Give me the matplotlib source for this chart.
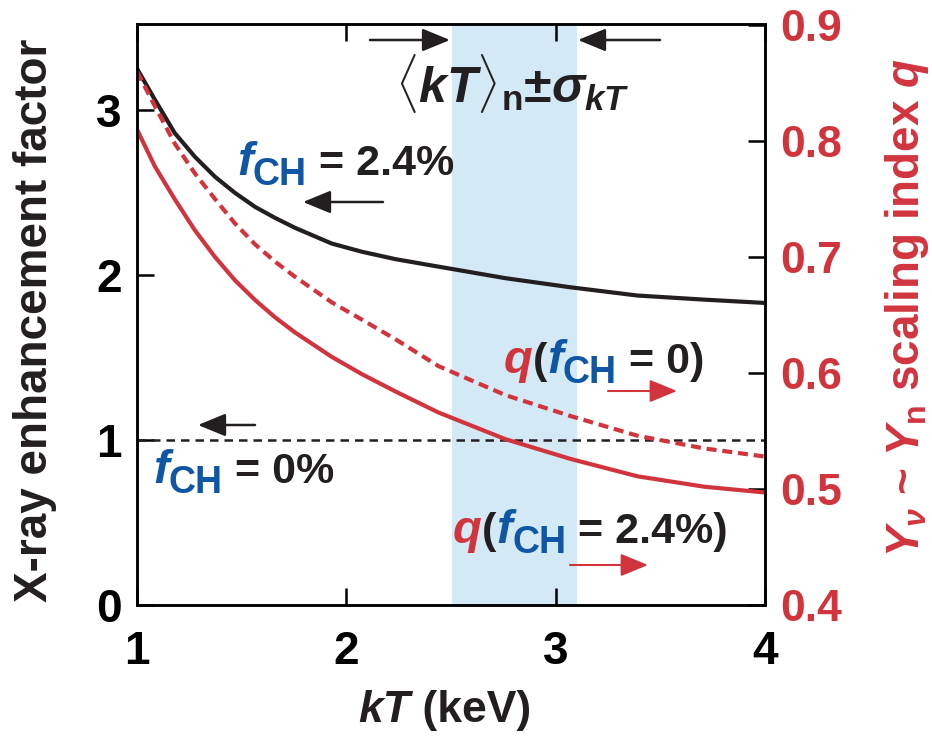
import matplotlib
matplotlib.use("Agg")
import matplotlib.pyplot as plt
from matplotlib.patches import FancyArrowPatch

plt.rcParams['font.family'] = ['Liberation Sans', 'DejaVu Sans']
plt.rcParams['font.weight'] = 'bold'
plt.rcParams['axes.labelweight'] = 'bold'
plt.rcParams['mathtext.fontset'] = 'custom'
plt.rcParams['mathtext.rm'] = 'Liberation Sans:bold'
plt.rcParams['mathtext.it'] = 'Liberation Sans:bold:italic'
plt.rcParams['mathtext.bf'] = 'Liberation Sans:bold'

RED = '#d2343e'
BLUE = '#0f56a4'
BLACK = '#231f20'
SHADE = '#d3e9f6'

# data
kT = [1.0, 1.086, 1.18, 1.277, 1.373, 1.468, 1.564, 1.66, 1.755, 1.93,
      2.075, 2.236, 2.44, 2.76, 3.07, 3.39, 3.71, 4.0]
enh_24 = [3.25, 3.06, 2.86, 2.715, 2.594, 2.497, 2.412, 2.345, 2.285, 2.19,
          2.14, 2.095, 2.05, 1.98, 1.925, 1.875, 1.85, 1.83]
kT_ref = [1.0, 4.0]
enh_0 = [1.0, 1.0]
q_0 = [0.860, 0.830, 0.798, 0.772, 0.750, 0.729, 0.711, 0.696, 0.683, 0.661,
       0.646, 0.629, 0.606, 0.581, 0.563, 0.546, 0.535, 0.528]
q_24 = [0.810, 0.778, 0.750, 0.723, 0.700, 0.680, 0.663, 0.648, 0.635, 0.614,
        0.599, 0.584, 0.566, 0.543, 0.526, 0.511, 0.502, 0.497]
band = [2.505, 3.10]

W, H = 932, 746
fig = plt.figure(figsize=(W / 100, H / 100), dpi=100)
ax = fig.add_axes([137 / W, 1 - 605 / H, (765 - 137) / W, (605 - 24) / H])
ax2 = ax.twinx()

ax.axvspan(band[0], band[1], color=SHADE, lw=0, zorder=0)
ax.plot(kT, enh_24, color=BLACK, lw=3.0, zorder=3, solid_joinstyle='round')
ax.plot(kT_ref, enh_0, color=BLACK, lw=1.8, ls=(0, (3.4, 2.4)), zorder=3)
ax2.plot(kT, q_0, color=RED, lw=3.0, ls=(0, (2.4, 1.4)))
ax2.plot(kT, q_24, color=RED, lw=3.0, solid_joinstyle='round')

ax.set_xlim(1, 4)
ax.set_ylim(0, 3.52)
ax2.set_ylim(0.4, 0.901)
ax.set_xticks([1, 2, 3, 4])
ax.set_yticks([0, 1, 2, 3])
ax2.set_yticks([0.4, 0.5, 0.6, 0.7, 0.8, 0.9])

ax.tick_params(axis='x', direction='in', top=True, length=12, width=1.8,
               labelsize=33, pad=18)
ax.tick_params(axis='y', direction='in', length=12, width=1.8, labelsize=33, pad=11)
ax2.tick_params(axis='y', direction='in', length=12, width=1.8, labelsize=32,
                labelcolor=RED, pad=11)
for a in (ax, ax2):
    for s in a.spines.values():
        s.set_linewidth(1.8)

renderer = fig.canvas.get_renderer()


def pieces_at(px, py, pieces):
    # pieces side by side; (text, colour, size, drop in px, italic)
    x = px
    for txt, col, size, dy, it in pieces:
        t = fig.text(x / W, 1 - (py + dy) / H, txt, color=col, fontsize=size,
                     va='baseline', ha='left', style='italic' if it else 'normal')
        x += t.get_window_extent(renderer).width


S, F, SUB = 31, 34, 27
pieces_at(237, 175, [('f', BLUE, F, 0, True), ('CH', BLUE, SUB, 10, False),
                     (' = 2.4%', BLACK, S, 0, False)])
pieces_at(153, 483, [('f', BLUE, F, 0, True), ('CH', BLUE, SUB, 10, False),
                     (' = 0%', BLACK, S, 0, False)])
pieces_at(504, 373, [('q', RED, F, 0, True), ('(', BLACK, S, 0, False),
                     ('f', BLUE, F, 0, True), ('CH', BLUE, SUB, 10, False),
                     (' = 0)', BLACK, S, 0, False)])
pieces_at(453, 543, [('q', RED, F, 0, True), ('(', BLACK, S, 0, False),
                     ('f', BLUE, F, 0, True), ('CH', BLUE, SUB, 10, False),
                     (' = 2.4%)', BLACK, S, 0, False)])
fig.text(512 / W, 1 - 102 / H, r'$\langle kT\rangle_\mathrm{n}$$\pm$$\sigma_{kT}$',
         fontsize=36, ha='center', va='baseline', color=BLACK)

# axis labels
pieces_at(358, 722, [('kT', BLACK, 32, 0, True), (' (keV)', BLACK, 32, 0, False)])
fig.text(35 / W, 1 - 320 / H, 'X-ray enhancement factor', fontsize=33,
         rotation=90, ha='center', va='center', color=BLACK)
fig.text(907 / W, 1 - 308 / H, r'$Y_\nu$ ~ $Y_\mathrm{n}$ scaling index $q$',
         fontsize=33, rotation=90, ha='center', va='center', color=RED)


def arrow(x0, y0, x1, y1, col, lw=1.8):
    fig.add_artist(FancyArrowPatch(
        (x0 / W, 1 - y0 / H), (x1 / W, 1 - y1 / H), transform=fig.transFigure,
        arrowstyle='-|>,head_length=17,head_width=7', lw=lw, color=col,
        shrinkA=0, shrinkB=0))


arrow(370, 40, 450, 40, BLACK)
arrow(660, 40, 578, 40, BLACK)
arrow(383, 202, 303, 202, BLACK)
arrow(255, 425, 198, 425, BLACK)
arrow(608, 391, 677, 391, RED, 1.5)
arrow(570, 565, 648, 565, RED, 1.5)

fig.savefig('out.png', dpi=100)
